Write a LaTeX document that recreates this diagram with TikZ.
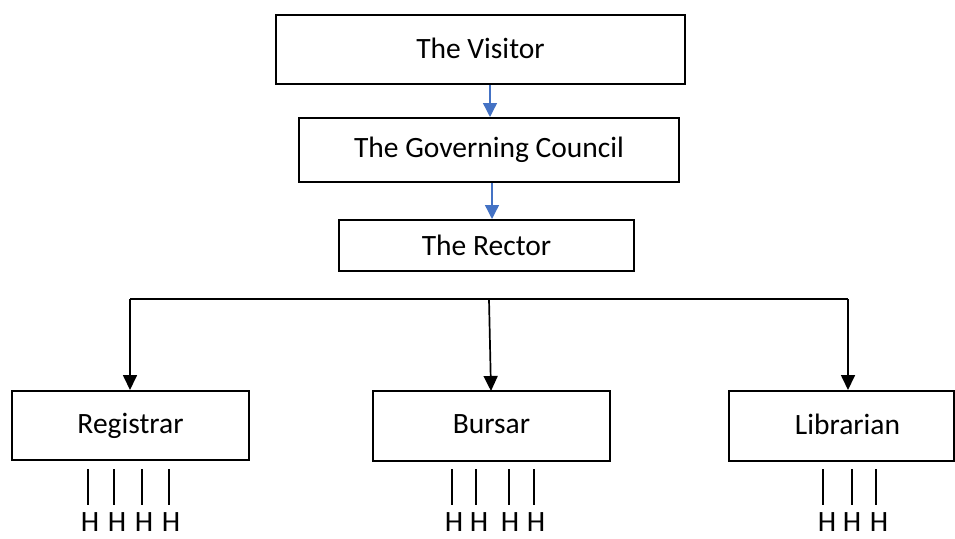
\documentclass[tikz,border=0pt]{standalone}
\usepackage{fontspec}
\setmainfont{Carlito}
\usetikzlibrary{arrows.meta}
\begin{document}
\begin{tikzpicture}[x=1pt,y=-1pt,
  box/.style={draw=black,line width=2pt,rectangle,inner sep=0pt,font=\fontsize{29.5}{35}\selectfont},
  blueconn/.style={draw={rgb,255:red,68;green,114;blue,196},line width=1.4pt,-{Triangle[width=14pt,length=14pt]}},
  blackconn/.style={draw=black,line width=1.7pt,-{Triangle[width=14pt,length=15pt]}},
  treeline/.style={draw=black,line width=1.7pt},
  barline/.style={draw=black,line width=1.3pt},
  hlabel/.style={inner sep=0pt,font=\fontsize{29.5}{35}\selectfont}]
\useasboundingbox (0,0) rectangle (955,538);
\node[box,minimum width=409pt,minimum height=69pt] (vis) at (480.5,49.5) {\raisebox{3pt}{The Visitor}};
\node[box,minimum width=380pt,minimum height=64pt] (gov) at (489,150) {\raisebox{2pt}{The Governing Council}};
\node[box,minimum width=295pt,minimum height=51pt] (rec) at (486.5,245.5) {The Rector};
\node[box,minimum width=237pt,minimum height=69pt] (reg) at (130.5,425.5) {\raisebox{3pt}{Registrar}};
\node[box,minimum width=237pt,minimum height=70pt] (bur) at (491.5,426) {\raisebox{3pt}{Bursar}};
\node[box,minimum width=225pt,minimum height=70pt,align=center] (lib) at (841.5,426) {\raisebox{3pt}{\hspace*{12pt}Librarian}};
\draw[blueconn] (vis.south -| 490,0) -- (gov.north -| 490,0);
\draw[blueconn] (gov.south -| 492,0) -- (rec.north -| 492,0);
\coordinate (ta) at (130,299);
\coordinate (tb) at (489,299);
\coordinate (tc) at (848,299);
\draw[treeline] (ta) -- (tc);
\draw[blackconn] (ta) -- (ta |- reg.north);
\draw[blackconn] (tb) -- (491,391);
\draw[blackconn] (tc) -- (tc |- lib.north);
% bars and H labels
\foreach \bx/\hx [count=\i] in {88/90,114/117,142/144,169/171,452/454,476/479,509/510,534/536,823/827,852/852,876/879}{
  \coordinate (bt\i) at (\bx,469);
  \coordinate (bb\i) at (\bx,505);
  \draw[barline] (bt\i) -- (bb\i);
  \node[hlabel] (h\i) at (\hx,522) {H};
}
\end{tikzpicture}
\end{document}
